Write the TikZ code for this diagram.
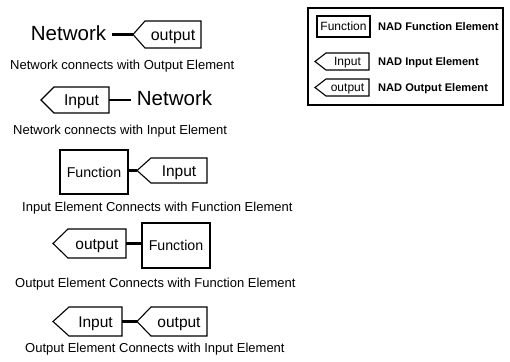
\documentclass[tikz,border=0pt]{standalone}
\usepackage{fontspec}
\setmainfont{Liberation Sans}
\tikzset{
  tagline/.style={draw=black, line width=1.1pt, line join=miter},
  tagbody/.style={rectangle, inner sep=0pt, outer sep=0pt, align=center, text depth=0pt},
  funcbox/.style={rectangle, draw=black, line width=1.1pt, inner sep=0pt, outer sep=0pt, align=center, text depth=0pt},
  conn/.style={draw=black, line width=2.1pt},
  nettext/.style={inner xsep=6pt, inner ysep=0pt, outer sep=0pt, text height=14.7pt, text depth=0pt, font=\fontsize{20.5}{22}\selectfont},
  caption/.style={anchor=west, inner sep=0pt, text height=9.3pt, text depth=0pt, font=\fontsize{13}{14}\selectfont},
  legtext/.style={anchor=west, inner sep=0pt, text height=7.95pt, text depth=0pt, font=\fontsize{11.1}{12}\selectfont\bfseries},
}
% name, tipx, bodyleft, right, top, bottom, fontsize, text
\newcommand\tagel[8]{%
  \node[tagbody, minimum width={(#4)-(#3)}, minimum height={(#6)-(#5)}, text height={0.716*(#7)},
        font=\fontsize{#7}{#7}\selectfont] (#1) at ({((#3)+(#4))/2},{((#5)+(#6))/2}) {#8};
  \coordinate (#1tip) at (#2,{((#5)+(#6))/2});
  \draw[tagline] (#1.north west) -- (#1.north east) -- (#1.south east) -- (#1.south west) -- (#1tip) -- cycle;
}
\begin{document}
\begin{tikzpicture}[x=1pt,y=-1pt]
\useasboundingbox (0,0) rectangle (510,361);

% Row 1
\node[nettext] (net1) at (68.5,33.5) {Network};
\tagel{o1}{133}{145}{201}{21}{48}{16}{output}
\draw[conn] (o1tip) -- (o1tip -| net1.east);
\node[caption] (c1) at (10,65) {Network connects with Output Element};

% Row 2
\tagel{i2}{41}{54}{109}{87}{113}{15.7}{Input}
\node[nettext] (net2) at (174.5,98) {Network};
\draw[conn] (i2.east) -- (i2.east -| net2.west);
\node[caption] (c2) at (13,130) {Network connects with Input Element};

% Row 3
\node[funcbox, minimum width=68, minimum height=44, text height=10.2pt, font=\fontsize{14.2}{15}\selectfont] (f3) at (94,172) {Function};
\tagel{i3}{137}{151}{207}{158}{183}{15.5}{Input}
\draw[conn] (i3tip) -- (i3tip -| f3.east);
\node[caption] (c3) at (22,207) {Input Element Connects with Function Element};

% Row 4
\tagel{o4}{53}{68}{126}{229}{258}{15.5}{output}
\node[funcbox, minimum width=68, minimum height=45, text height=10.2pt, font=\fontsize{14.2}{15}\selectfont] (f4) at (176,245.5) {Function};
\draw[conn] (o4.east) -- (o4.east -| f4.west);
\node[caption] (c4) at (15,283) {Output Element Connects with Function Element};

% Row 5
\tagel{i5}{53}{69}{122}{307}{336}{15.5}{Input}
\tagel{o5}{137}{151}{207}{307}{336}{15.5}{output}
\draw[conn] (i5.east) -- (o5tip);
\node[caption] (c5) at (25,348) {Output Element Connects with Input Element};

% Legend
\node[draw=black, line width=1.1pt, minimum width=195, minimum height=97, inner sep=0pt] (leg) at (405.5,56.5) {};
\node[funcbox, minimum width=53, minimum height=21, text height=8.6pt, font=\fontsize{12}{12}\selectfont] (lf) at (343.5,26.5) {Function};
\tagel{li}{315}{326}{369}{53}{70}{12}{Input}
\tagel{lo}{315}{326}{369}{79}{96}{12}{output}
\node[legtext] (lt1) at (378,27) {NAD Function Element};
\node[legtext] (lt2) at (378,62) {NAD Input Element};
\node[legtext] (lt3) at (378,87.5) {NAD Output Element};
\end{tikzpicture}
\end{document}
